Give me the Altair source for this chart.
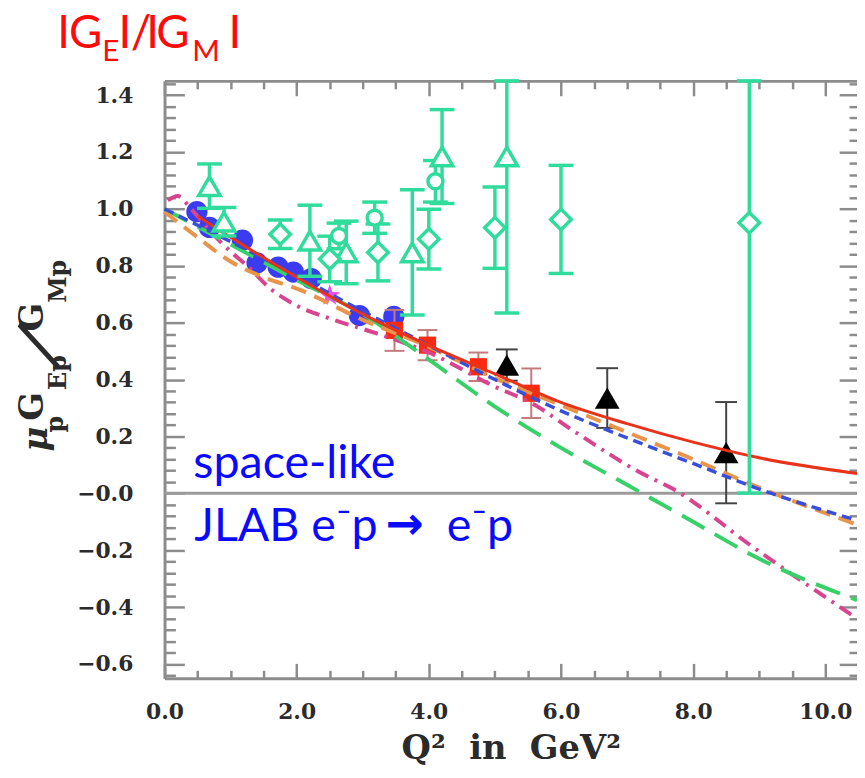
import altair as alt
import pandas as pd

# ---------------- data ----------------
# JLab Hall A recoil polarisation (blue filled circles)
hallA_q2 = [0.49, 0.68, 1.18, 1.40, 1.72, 1.95, 2.22, 2.95, 3.47]
hallA_r = [0.990, 0.935, 0.890, 0.810, 0.795, 0.778, 0.755, 0.625, 0.622]

# magenta star
star_q2 = [2.50]
star_r = [0.695]

# JLab high-Q2 polarisation (red squares)
gep2_q2 = [3.48, 3.98, 4.75, 5.55]
gep2_r = [0.573, 0.521, 0.445, 0.352]
gep2_e = [0.072, 0.053, 0.050, 0.087]

# JLab GEp-III (black triangles)
gep3_q2 = [5.18, 6.70, 8.50]
gep3_r = [0.451, 0.335, 0.143]
gep3_e = [0.055, 0.105, 0.178]

# Rosenbluth separations (green open symbols)
ros_tri_q2 = [0.68, 0.90, 2.20, 2.75, 3.75, 4.20, 5.18]
ros_tri_r = [1.080, 0.955, 0.888, 0.847, 0.847, 1.184, 1.184]
ros_tri_e = [0.078, 0.050, 0.125, 0.110, 0.220, 0.165, 0.550]

ros_dia_q2 = [1.75, 2.50, 3.23, 4.00, 5.00, 6.00, 8.85]
ros_dia_r = [0.911, 0.824, 0.847, 0.894, 0.934, 0.963, 0.951]
ros_dia_e = [0.050, 0.080, 0.100, 0.105, 0.143, 0.190, 0.950]

ros_cir_q2 = [2.64, 3.18, 4.10]
ros_cir_r = [0.905, 0.969, 1.097]
ros_cir_e = [0.045, 0.055, 0.073]

# model curves
red_fit_q2 = [0.5, 1.0, 2.0, 3.0, 4.0, 5.0, 6.0, 7.0, 8.0, 9.0, 10.48]
red_fit_r = [0.975, 0.900, 0.760, 0.630, 0.520, 0.420, 0.320, 0.245, 0.180, 0.125, 0.070]

blue_fit_q2 = [0.0, 1.0, 2.0, 3.0, 4.0, 5.0, 6.0, 7.0, 8.0, 9.0, 10.48]
blue_fit_r = [1.000, 0.885, 0.765, 0.640, 0.520, 0.400, 0.290, 0.195, 0.105, 0.015, -0.095]

orange_fit_q2 = [0.0, 0.5, 1.0, 1.5, 2.0, 3.0, 4.0, 5.0, 6.0, 7.0, 8.0, 9.0, 10.48]
orange_fit_r = [0.990, 0.900, 0.815, 0.760, 0.720, 0.610, 0.515, 0.405, 0.310, 0.215, 0.120, 0.020, -0.110]

green_fit_q2 = [0.0, 1.0, 2.0, 3.0, 4.0, 5.0, 6.0, 7.0, 8.0, 9.0, 10.48]
green_fit_r = [1.000, 0.875, 0.750, 0.630, 0.470, 0.305, 0.160, 0.030, -0.100, -0.230, -0.375]

mag_fit_q2 = [0.05, 0.2, 0.4, 0.7, 1.0, 1.25, 1.6, 2.0, 2.5, 3.2, 4.0, 5.0, 5.55, 6.2, 7.2, 7.7, 8.9, 10.48]
mag_fit_r = [1.030, 1.045, 1.000, 0.920, 0.850, 0.800, 0.720, 0.660, 0.615, 0.563, 0.495, 0.375, 0.318, 0.218, 0.073, 0.015, -0.188, -0.440]

zero_line = [0.0]

# axes
X_DOMAIN = [0.0, 10.48]
Y_DOMAIN = [-0.65, 1.45]
x_labels = [0.0, 2.0, 4.0, 6.0, 8.0, 10.0]
y_labels = [-0.6, -0.4, -0.2, 0.0, 0.2, 0.4, 0.6, 0.8, 1.0, 1.2, 1.4]
x_minor = [k * 0.5 for k in range(1, 21) if k % 4]
y_minor = [v for v in (round(-0.64 + 0.04 * k, 2) for k in range(53))
           if abs(v * 5 - round(v * 5)) > 1e-6]

# texts
title_parts = ["I", "G", "E", "I", "/", "I", "G", "M", "I"]
ytitle_parts = ["μ", "p", "G", "Ep", "/", "G", "Mp"]
x_title = "Q²\u00a0\u00a0in\u00a0\u00a0GeV²"
annot_parts = ["space-like", "JLAB e⁻p", "→", "e⁻p"]

# ---------------- styling ----------------
SERIF = "DejaVu Serif"
SANS = "Lato"
TICK = "#8c8c8c"
LAB = "#2b2b2b"
GREEN = "#2fdc9c"
BLUE_PTS = "#3b3bef"
RED_PTS = "#fa2a10"
BLUE_TXT = "#0a0aff"
RED_TXT = "#ff0a0a"

xs = alt.Scale(domain=X_DOMAIN, nice=False, zero=False)
ys = alt.Scale(domain=Y_DOMAIN, nice=False, zero=False)


def X(field="q2", axis=None):
    return alt.X(f"{field}:Q", scale=xs, axis=axis)


def Y(field="r", axis=None):
    return alt.Y(f"{field}:Q", scale=ys, axis=axis)


def frame(q2, r, e=None):
    d = pd.DataFrame({"q2": q2, "r": r})
    if e is not None:
        d["lo"] = [a - b for a, b in zip(r, e)]
        d["hi"] = [min(a + b, Y_DOMAIN[1]) for a, b in zip(r, e)]
    return d


tick_common = dict(grid=False, domain=False, tickColor=TICK, tickWidth=2.5,
                   labelFlush=False, labelOverlap=False)

ax_b_major = alt.Axis(orient="bottom", values=x_labels, format=".1f", tickSize=15, offset=-15,
                      labelPadding=24, labelFont=SERIF, labelFontSize=22, labelFontWeight="bold",
                      labelColor=LAB, title=x_title, titleFont=SERIF, titleFontSize=34,
                      titleFontWeight="bold", titleColor=LAB, titlePadding=9, **tick_common)
ax_b_minor = alt.Axis(orient="bottom", values=x_minor, tickSize=8, offset=-8, labels=False,
                      title=None, **tick_common)
ax_t_major = alt.Axis(orient="top", values=x_labels, tickSize=15, offset=-15, labels=False,
                      title=None, **tick_common)
ax_t_minor = alt.Axis(orient="top", values=x_minor, tickSize=8, offset=-8, labels=False,
                      title=None, **tick_common)
ax_l_major = alt.Axis(orient="left", values=y_labels, tickSize=20, offset=-20, labelPadding=32,
                      labelExpr="datum.value == 0 ? '\u22120.0' : format(datum.value, '.1f')",
                      labelFont=SERIF, labelFontSize=22, labelFontWeight="bold", labelColor=LAB,
                      title=None, **tick_common)
ax_l_minor = alt.Axis(orient="left", values=y_minor, tickSize=11, offset=-11, labels=False,
                      title=None, **tick_common)
ax_r_major = alt.Axis(orient="right", values=y_labels, tickSize=18, offset=-18, labels=False,
                      title=None, **tick_common)
ax_r_minor = alt.Axis(orient="right", values=y_minor, tickSize=8, offset=-8, labels=False,
                      title=None, **tick_common)
frame_common = dict(ticks=False, labels=False, domain=True, domainColor=TICK, domainWidth=3,
                    grid=False, title=None)
ax_b_frame = alt.Axis(orient="bottom", **frame_common)
ax_t_frame = alt.Axis(orient="top", **frame_common)
ax_l_frame = alt.Axis(orient="left", **frame_common)

layers = []

# zero line
layers.append(alt.Chart(pd.DataFrame({"r": zero_line})).mark_rule(color="#9b9b9b", strokeWidth=3)
              .encode(y=Y()))

# blue circles
layers.append(alt.Chart(frame(hallA_q2, hallA_r)).mark_point(shape="circle", filled=True, size=460,
                                                             color=BLUE_PTS, opacity=1)
              .encode(x=X(), y=Y()))
# star
STAR = ("M0,-1L0.235,-0.324L0.951,-0.309L0.380,0.124L0.588,0.809L0,0.4L-0.588,0.809"
        "L-0.380,0.124L-0.951,-0.309L-0.235,-0.324Z")
layers.append(alt.Chart(frame(star_q2, star_r)).mark_point(shape=STAR, filled=True, size=520,
                                                           color="#ec4fe6", opacity=1)
              .encode(x=X(), y=Y()))


def errbars(d, color, width, cap):
    out = [alt.Chart(d).mark_rule(color=color, strokeWidth=width).encode(
        x=X(), y=Y("lo"), y2=alt.Y2("hi"))]
    for f in ("lo", "hi"):
        out.append(alt.Chart(d).mark_tick(orient="horizontal", color=color, size=cap,
                                          thickness=width, opacity=1)
                   .encode(x=X(), y=Y(f)))
    return out


# red squares
d_red = frame(gep2_q2, gep2_r, gep2_e)
layers += errbars(d_red, "#c27b7b", 2, 20)
layers.append(alt.Chart(d_red).mark_point(shape="square", filled=True, size=300, color=RED_PTS,
                                          opacity=1).encode(x=X(), y=Y()))
# black triangles
d_blk = frame(gep3_q2, gep3_r, gep3_e)
layers += errbars(d_blk, "#444444", 2, 22)
layers.append(alt.Chart(d_blk).mark_point(shape="triangle-up", filled=True, size=620,
                                          color="#000000", opacity=1).encode(x=X(), y=Y()))

# curves (carry the tick axes)
curves = [
    (mag_fit_q2, mag_fit_r, "#d8458f", [14, 7, 3, 7], 4, ax_t_minor, ax_r_minor),
    (green_fit_q2, green_fit_r, "#38d068", [26, 12], 4, ax_t_major, ax_r_major),
    (orange_fit_q2, orange_fit_r, "#e8944a", [16, 9], 4, ax_b_minor, ax_l_minor),
    (blue_fit_q2, blue_fit_r, "#3a4fd8", [10, 6], 3.5, None, None),
    (red_fit_q2, red_fit_r, "#e8331a", None, 3, ax_b_major, ax_l_major),
]
for q2, r, col, dash, w, axx, axy in curves:
    kw = dict(color=col, strokeWidth=w, interpolate="monotone")
    if dash:
        kw["strokeDash"] = dash
    layers.append(alt.Chart(frame(q2, r)).mark_line(**kw).encode(x=X(axis=axx), y=Y(axis=axy)))

# green Rosenbluth data
d_tri = frame(ros_tri_q2, ros_tri_r, ros_tri_e)
d_dia = frame(ros_dia_q2, ros_dia_r, ros_dia_e)
d_cir = frame(ros_cir_q2, ros_cir_r, ros_cir_e)
d_green = pd.concat([d_tri, d_dia, d_cir], ignore_index=True)
layers.append(alt.Chart(d_green).mark_rule(color=GREEN, strokeWidth=3.5).encode(
    x=X(axis=ax_b_frame), y=Y("lo", axis=ax_l_frame), y2=alt.Y2("hi")))
layers.append(alt.Chart(d_green).mark_tick(orient="horizontal", color=GREEN, size=25, thickness=3.5,
                                           opacity=1).encode(x=X(axis=ax_t_frame), y=Y("lo")))
layers.append(alt.Chart(d_green).mark_tick(orient="horizontal", color=GREEN, size=25, thickness=3.5,
                                           opacity=1).encode(x=X(), y=Y("hi")))
for d, shape, size in ((d_tri, "triangle-up", 470), (d_dia, "diamond", 430), (d_cir, "circle", 230)):
    layers.append(alt.Chart(d).mark_point(shape=shape, filled=True, size=size, fill="white",
                                          stroke=GREEN, strokeWidth=3.5, opacity=1)
                  .encode(x=X(), y=Y()))


# text annotations (pixel positions relative to the plot's top-left corner)
def label(s, x, y, size, font, color, weight="normal", style="normal", angle=0):
    return (alt.Chart(pd.DataFrame({"t": [s]}))
            .mark_text(font=font, fontSize=size, fontWeight=weight, fontStyle=style, color=color,
                       align="left", baseline="alphabetic", angle=angle)
            .encode(x=alt.value(x), y=alt.value(y), text="t:N"))


# red title |G_E|/|G_M|, one glyph at a time
title_x = [-108.4, -96.3, -62.8, -46.4, -34.0, -18.4, -8.3, 28.0, 64.6]
title_big = [True, True, False, True, True, True, True, False, True]
for s, x, big in zip(title_parts, title_x, title_big):
    layers.append(label(s, x, -33 if big else -20, 46 if big else 30, SANS, RED_TXT))

# rotated y title  mu_p G_Ep / G_Mp
layers.append(label(ytitle_parts[0], -119, 374, 34, SERIF, LAB, "bold", "italic", 270))
layers.append(label(ytitle_parts[1], -102, 355, 24, SERIF, LAB, "bold", "normal", 270))
layers.append(label(ytitle_parts[2], -123, 343, 34, SERIF, LAB, "bold", "normal", 270))
layers.append(label(ytitle_parts[3], -99, 312, 24, SERIF, LAB, "bold", "normal", 270))
layers.append(label(ytitle_parts[4], -114, 288, 68, SERIF, LAB, "normal", "normal", 300))
layers.append(label(ytitle_parts[5], -123, 253, 34, SERIF, LAB, "bold", "normal", 270))
layers.append(label(ytitle_parts[6], -99, 224, 24, SERIF, LAB, "bold", "normal", 270))

# blue annotations
layers.append(label(annot_parts[0], 29, 401, 47, SANS, BLUE_TXT))
layers.append(label(annot_parts[1], 30, 464, 47, SANS, BLUE_TXT))
layers.append(label(annot_parts[2], 223, 462, 46, "DejaVu Sans", BLUE_TXT, "bold"))
layers.append(label(annot_parts[3], 285, 464, 47, SANS, BLUE_TXT))

chart = (alt.layer(*layers)
         .resolve_axis(x="independent", y="independent")
         .properties(width=699, height=603,
                     autosize=alt.AutoSizeParams(type="none"),
                     padding={"left": 158, "top": 70, "right": 0, "bottom": 85})
         .configure_view(stroke=None))

chart.save("out.html", embed_options={"renderer": "svg", "actions": False})
